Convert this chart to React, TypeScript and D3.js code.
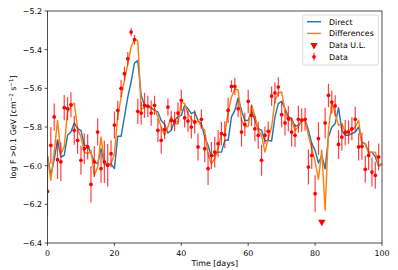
import React from "react";
import * as d3 from "d3";

// Daily data points (day index = array index); null = upper limit day
const flux: (number | null)[] = [
  -6.133, -5.895, -5.748, -5.969, -5.98, -5.70, -5.705, -5.685, -5.817, -5.869,
  -5.972, -5.912, -5.903, -6.097, -5.98, -5.826, -6.015, -5.98, -5.998, -5.938,
  -5.79, -5.714, -5.60, -5.524, -5.447, -5.309, -5.348, -5.719, -5.728, -5.688,
  -5.693, -5.728, -5.688, -5.817, -5.869, -5.814, -5.697, -5.766, -5.771, -5.728,
  -5.662, -5.753, -5.769, -5.80, -5.774, -5.903, -5.76, -5.912, -6.015, -5.947,
  -5.93, -5.886, -5.834, -5.84, -5.714, -5.59, -5.59, -5.705, -5.826, -5.786,
  -5.667, -5.74, -5.809, -5.843, -5.972, -5.843, -5.822, -5.64, -5.624, -5.593,
  -5.736, -5.779, -5.757, -5.826, -5.843, -5.76, -5.764, -5.76, -6.007, -5.947,
  -6.145, -5.86, null, -5.779, -5.636, -5.671, -5.691, -5.89, -5.852, -5.829,
  -5.826, -5.809, -5.76, -5.903, -5.9, -6.019, -5.947, -6.033, -6.05, -5.955,
];
const fluxErr: number[] = [
  0.13, 0.095, 0.07, 0.10, 0.10, 0.065, 0.06, 0.065, 0.075, 0.07,
  0.075, 0.08, 0.065, 0.095, 0.08, 0.07, 0.075, 0.11, 0.11, 0.07,
  0.07, 0.05, 0.045, 0.035, 0.035, 0.02, 0.025, 0.065, 0.06, 0.065,
  0.055, 0.065, 0.05, 0.06, 0.07, 0.05, 0.045, 0.05, 0.05, 0.055,
  0.055, 0.05, 0.055, 0.06, 0.06, 0.07, 0.05, 0.07, 0.085, 0.07,
  0.08, 0.07, 0.06, 0.07, 0.065, 0.03, 0.045, 0.045, 0.075, 0.06,
  0.06, 0.055, 0.065, 0.07, 0.08, 0.045, 0.05, 0.05, 0.055, 0.05,
  0.065, 0.065, 0.065, 0.075, 0.06, 0.07, 0.06, 0.06, 0.09, 0.07,
  0.095, 0.085, 0, 0.08, 0.06, 0.06, 0.055, 0.075, 0.07, 0.065,
  0.06, 0.06, 0.065, 0.07, 0.07, 0.07, 0.075, 0.075, 0.07, 0.07,
];
const ulDays: number[] = [82];
const ulValues: number[] = [-6.291];

// Model curves, days 0..100
const direct: number[] = [
  -5.95, -6.05, -5.97, -5.866, -5.955, -5.947, -5.843, -5.826, -5.779, -5.809,
  -5.817, -5.895, -5.895, -5.938, -5.98, -5.99, -5.912, -5.993, -5.993, -5.993,
  -6.015, -5.848, -5.848, -5.748, -5.645, -5.565, -5.47, -5.457, -5.636, -5.688,
  -5.688, -5.70, -5.714, -5.722, -5.766, -5.786, -5.831, -5.817, -5.766, -5.745,
  -5.74, -5.688, -5.705, -5.731, -5.722, -5.766, -5.783, -5.852, -5.895, -5.955,
  -5.945, -5.93, -5.93, -5.869, -5.869, -5.748, -5.714, -5.648, -5.714, -5.766,
  -5.766, -5.714, -5.766, -5.809, -5.817, -5.872, -5.869, -5.872, -5.748, -5.679,
  -5.667, -5.705, -5.748, -5.757, -5.797, -5.79, -5.77, -5.762, -5.817, -5.886,
  -5.921, -5.986, -5.947, -6.016, -5.852, -5.8, -5.783, -5.70, -5.817, -5.843,
  -5.843, -5.834, -5.826, -5.8, -5.878, -5.886, -5.93, -5.93, -5.955, -6.003,
  -5.99,
];
const differences: number[] = [
  -5.95, -6.076, -5.93, -5.766, -5.938, -5.903, -5.722, -5.697, -5.676, -5.809,
  -5.852, -5.93, -5.938, -5.921, -6.05, -6.007, -5.852, -5.981, -5.99, -5.99,
  -5.938, -5.748, -5.645, -5.559, -5.472, -5.386, -5.345, -5.355, -5.71, -5.697,
  -5.688, -5.71, -5.705, -5.748, -5.8, -5.843, -5.8, -5.748, -5.783, -5.783,
  -5.671, -5.679, -5.731, -5.757, -5.783, -5.766, -5.8, -5.817, -5.938, -5.99,
  -5.964, -5.91, -5.834, -5.843, -5.722, -5.645, -5.602, -5.61, -5.766, -5.797,
  -5.797, -5.688, -5.74, -5.817, -5.843, -5.93, -5.86, -5.8, -5.662, -5.624,
  -5.619, -5.714, -5.766, -5.762, -5.817, -5.80, -5.765, -5.766, -5.843, -5.912,
  -5.98, -6.07, -5.92, -6.231, -5.817, -5.671, -5.731, -5.791, -5.783, -5.826,
  -5.817, -5.817, -5.8, -5.766, -5.886, -5.886, -5.938, -5.93, -5.93, -5.998,
  -5.99,
];

const xTicks: number[] = [0, 20, 40, 60, 80, 100];
const yTicks: number[] = [-5.2, -5.4, -5.6, -5.8, -6.0, -6.2, -6.4];

const W = 398;
const H = 270;
const L = 47.5, R = 382, T = 11, B = 243;
const FONT = "'DejaVu Sans', sans-serif";
const FS = 7.9;
const BLUE = "#1f77b4";
const ORANGE = "#ff7f0e";
const RED = "#ff0000";

export default function App() {
  const x = d3.scaleLinear().domain([0, 100]).range([L, R]);
  const y = d3.scaleLinear().domain([-6.4, -5.2]).range([B, T]);
  const line = d3
    .line<number>()
    .x((_, i) => x(i))
    .y((d) => y(d));
  const fmt = (v: number) => v.toFixed(1).replace("-", "\u2212");
  const tri = d3.symbol(d3.symbolTriangle, 24)();

  const legendRows = [
    { label: "Direct", kind: "line", color: BLUE },
    { label: "Differences", kind: "line", color: ORANGE },
    { label: "Data U.L.", kind: "ul", color: RED },
    { label: "Data", kind: "data", color: RED },
  ];
  const lgX = 302.7, lgY = 15, lgW = 75.6, lgH = 50;
  const rowY = (i: number) => 21.7 + i * 11.7;

  return (
    <svg
      width={W}
      height={H}
      style={{ position: "absolute", left: 0, top: 0, background: "#fff" }}
      fontFamily={FONT}
    >
      <defs>
        <clipPath id="plotclip">
          <rect x={L} y={T} width={R - L} height={B - T} />
        </clipPath>
      </defs>
      <rect x={0} y={0} width={W} height={H} fill="#fff" />
      <g clipPath="url(#plotclip)">
        <path d={line(direct) || ""} fill="none" stroke={BLUE} strokeWidth={1.45} strokeLinejoin="round" />
        <path d={line(differences) || ""} fill="none" stroke={ORANGE} strokeWidth={1.45} strokeLinejoin="round" />
        {ulDays.map((d, i) => (
          <path key={"ul" + i} d={tri || ""} fill={RED} transform={`translate(${x(d)},${y(ulValues[i])}) rotate(180)`} />
        ))}
        {flux.map((v, i) =>
          v === null ? null : (
            <g key={"p" + i}>
              <line
                x1={x(i)}
                x2={x(i)}
                y1={y(v - fluxErr[i])}
                y2={y(v + fluxErr[i])}
                stroke={RED}
                strokeOpacity={0.75}
                strokeWidth={1.2}
              />
              <circle cx={x(i)} cy={y(v)} r={1.85} fill={RED} />
            </g>
          )
        )}
      </g>

      {/* axes frame */}
      <rect x={L} y={T} width={R - L} height={B - T} fill="none" stroke="#222" strokeWidth={0.8} />

      {/* x ticks */}
      {xTicks.map((t) => (
        <g key={"xt" + t}>
          <line x1={x(t)} x2={x(t)} y1={B} y2={B + 2.8} stroke="#222" strokeWidth={0.8} />
          <text x={x(t)} y={B + 12.7} fontSize={FS} textAnchor="middle" fill="#000">
            {t}
          </text>
        </g>
      ))}
      {/* y ticks */}
      {yTicks.map((t) => (
        <g key={"yt" + t}>
          <line x1={L - 2.8} x2={L} y1={y(t)} y2={y(t)} stroke="#222" strokeWidth={0.8} />
          <text x={L - 5.5} y={y(t) + 2.9} fontSize={FS} textAnchor="end" fill="#000">
            {fmt(t)}
          </text>
        </g>
      ))}

      <text x={(L + R) / 2} y={265.5} fontSize={FS} textAnchor="middle" fill="#000">
        Time [days]
      </text>
      <text
        transform={`translate(15.8,${(T + B) / 2}) rotate(-90)`}
        fontSize={FS}
        textAnchor="middle"
        fill="#000"
      >
        log F &gt;0.1 GeV [cm
        <tspan fontSize={FS * 0.7} dy={-3}>
          −2
        </tspan>
        <tspan dy={3}> s</tspan>
        <tspan fontSize={FS * 0.7} dy={-3}>
          −1
        </tspan>
        <tspan dy={3}>]</tspan>
      </text>

      {/* legend */}
      <rect x={lgX} y={lgY} width={lgW} height={lgH} rx={2} ry={2} fill="#fff" fillOpacity={0.8} stroke="#d0d0d0" strokeWidth={0.8} />
      {legendRows.map((r, i) => {
        const cy = rowY(i);
        const hx0 = 307, hx1 = 321, hc = (hx0 + hx1) / 2;
        return (
          <g key={"lg" + i}>
            {r.kind === "line" && (
              <line x1={hx0} x2={hx1} y1={cy} y2={cy} stroke={r.color} strokeWidth={1.45} />
            )}
            {r.kind === "ul" && (
              <path d={tri || ""} fill={r.color} transform={`translate(${hc},${cy}) rotate(180)`} />
            )}
            {r.kind === "data" && (
              <g>
                <line x1={hc} x2={hc} y1={cy - 4} y2={cy + 4} stroke={r.color} strokeOpacity={0.75} strokeWidth={1.2} />
                <circle cx={hc} cy={cy} r={1.85} fill={r.color} />
              </g>
            )}
            <text x={329} y={cy + 2.9} fontSize={FS} fill="#000">
              {r.label}
            </text>
          </g>
        );
      })}
    </svg>
  );
}
